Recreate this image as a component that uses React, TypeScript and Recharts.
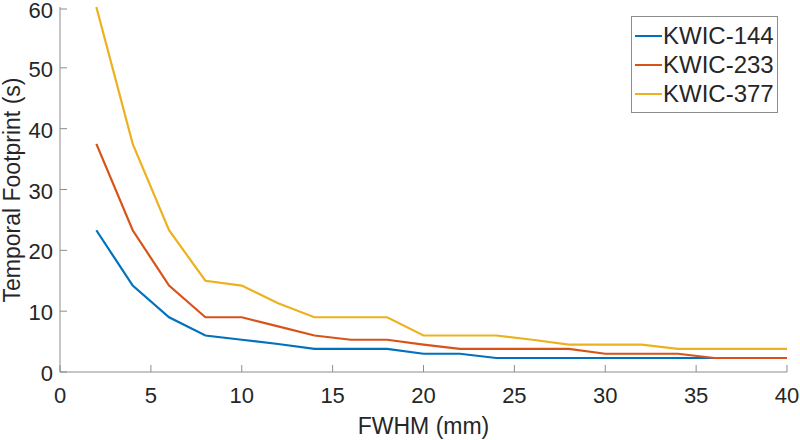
import React from "react";
import {
  LineChart,
  Line,
  XAxis,
  YAxis,
  Legend,
} from "recharts";

const fwhm = [2, 4, 6, 8, 10, 12, 14, 16, 18, 20, 22, 24, 26, 28, 30, 32, 34, 36, 38, 40];
const kwic144 = [23.3, 14.2, 9.0, 6.0, 5.3, 4.6, 3.8, 3.8, 3.8, 3.0, 3.0, 2.3, 2.3, 2.3, 2.3, 2.3, 2.3, 2.3, 2.3, 2.3];
const kwic233 = [37.5, 23.3, 14.2, 9.0, 9.0, 7.5, 6.0, 5.3, 5.3, 4.5, 3.8, 3.8, 3.8, 3.8, 3.0, 3.0, 3.0, 2.3, 2.3, 2.3];
const kwic377 = [60, 37.5, 23.3, 15.0, 14.2, 11.3, 9.0, 9.0, 9.0, 6.0, 6.0, 6.0, 5.3, 4.5, 4.5, 4.5, 3.8, 3.8, 3.8, 3.8];
const xTicks = [0, 5, 10, 15, 20, 25, 30, 35, 40];
const yTicks = [0, 10, 20, 30, 40, 50, 60];

const data = fwhm.map((x, i) => ({
  x,
  k144: kwic144[i],
  k233: kwic233[i],
  k377: kwic377[i],
}));

const FONT = "'Liberation Sans', Arial, sans-serif";
const AXIS = "#8c8c8c";
const TEXT = "#262626";

const XTick = (props: any) => {
  const { x, y, payload } = props;
  return (
    <g>
      <line x1={x} x2={x} y1={y} y2={y - 7} stroke={AXIS} />
      <text x={x} y={y + 31} textAnchor="middle" fontSize={22} fill={TEXT} fontFamily={FONT}>
        {payload.value}
      </text>
    </g>
  );
};

const YTick = (props: any) => {
  const { x, y, payload } = props;
  return (
    <g>
      <line x1={x} x2={x + 7} y1={y} y2={y} stroke={AXIS} />
      <text x={x - 7} y={y + 9} textAnchor="end" fontSize={22} fill={TEXT} fontFamily={FONT}>
        {payload.value}
      </text>
    </g>
  );
};

const LegendBox = (props: any) => {
  const { payload } = props;
  return (
    <div
      style={{
        width: 145,
        height: 91,
        border: `1px solid ${AXIS}`,
        background: "#fff",
        fontFamily: FONT,
        fontSize: 24,
        color: TEXT,
        boxSizing: "content-box",
        paddingTop: 4,
      }}
    >
      {(payload || []).map((p: any) => (
        <div key={p.value} style={{ display: "flex", alignItems: "center", height: 29 }}>
          <div style={{ width: 27, height: 2, background: p.color, marginLeft: 3, marginRight: 1 }} />
          <span>{p.value}</span>
        </div>
      ))}
    </div>
  );
};

export default function App() {
  return (
    <div style={{ position: "absolute", left: 0, top: 0, background: "#fff" }}>
      <LineChart width={800} height={440} data={data} margin={{ top: 7, right: 13, left: 0, bottom: 0 }}>
        <XAxis
          dataKey="x"
          type="number"
          domain={[0, 40]}
          ticks={xTicks}
          height={68}
          stroke={AXIS}
          tickLine={false}
          tickSize={0}
          tickMargin={0}
          tick={<XTick />}
          label={{
            content: () => (
              <text x={423.5} y={434} textAnchor="middle" fontSize={23} fill={TEXT} fontFamily={FONT}>
                FWHM (mm)
              </text>
            ),
          }}
        />
        <YAxis
          type="number"
          domain={[0, 60]}
          ticks={yTicks}
          width={60}
          stroke={AXIS}
          tickLine={false}
          tickSize={0}
          tickMargin={0}
          tick={<YTick />}
          label={{
            content: () => (
              <text
                x={20}
                y={190}
                transform="rotate(-90, 20, 190)"
                textAnchor="middle"
                fontSize={23}
                fill={TEXT}
                fontFamily={FONT}
              >
                Temporal Footprint (s)
              </text>
            ),
          }}
        />
        <Legend
          layout="horizontal"
          verticalAlign="middle"
          align="center"
          wrapperStyle={{ top: 16, left: 631, width: 147 }}
          content={<LegendBox />}
        />
        <Line dataKey="k144" name="KWIC-144" stroke="#0072BD" strokeWidth={2.2} dot={false} isAnimationActive={false} />
        <Line dataKey="k233" name="KWIC-233" stroke="#D95319" strokeWidth={2.2} dot={false} isAnimationActive={false} />
        <Line dataKey="k377" name="KWIC-377" stroke="#EDB120" strokeWidth={2.2} dot={false} isAnimationActive={false} />
      </LineChart>
    </div>
  );
}
